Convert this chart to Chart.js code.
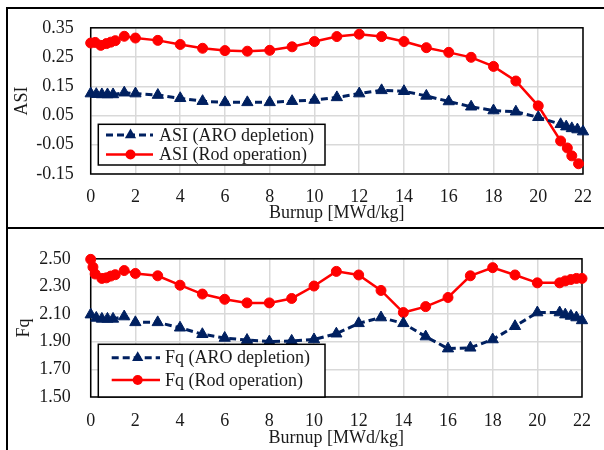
<!DOCTYPE html>
<html>
<head>
<meta charset="utf-8">
<script src="https://cdn.jsdelivr.net/npm/chart.js@4/dist/chart.umd.min.js"></script>
<style>
  html, body { margin: 0; padding: 0; background: #fff; overflow: hidden; }
  body { width: 604px; height: 450px; position: relative; }
  canvas { position: absolute; left: 0; }
  #c1 { top: 0; }
  #c2 { top: 228px; }
  .frame { position: absolute; box-sizing: border-box; border: 2px solid #000; pointer-events: none; }
</style>
</head>
<body>
<canvas id="c1" width="604" height="228"></canvas>
<canvas id="c2" width="604" height="222"></canvas>
<div class="frame" style="left:6px; top:7px; width:602px; height:222px;"></div>
<div class="frame" style="left:6px; top:227px; width:602px; height:240px;"></div>
<script>
// ---------------- data ----------------
const burnupAro    = [0, 0.25, 0.5, 0.75, 1, 1.5, 2, 3, 4, 5, 6, 7, 8, 9, 10, 11, 12, 13, 14, 15, 16, 17, 18, 19, 20, 21, 21.25, 21.5, 21.75, 22];
const burnupRodAsi = [0, 0.2, 0.45, 0.7, 0.9, 1.1, 1.5, 2, 3, 4, 5, 6, 7, 8, 9, 10, 11, 12, 13, 14, 15, 16, 17, 18, 19, 20, 21, 21.3, 21.5, 21.8];
const burnupRodFq  = [0, 0.1, 0.2, 0.5, 0.7, 0.9, 1.1, 1.5, 2, 3, 4, 5, 6, 7, 8, 9, 10, 11, 12, 13, 14, 15, 16, 17, 18, 19, 20, 21, 21.25, 21.5, 21.75, 22];

const asiAro = [0.125, 0.123, 0.122, 0.122, 0.122, 0.128, 0.125, 0.120, 0.109, 0.099, 0.095, 0.095, 0.095, 0.099, 0.103, 0.112, 0.125, 0.136, 0.133, 0.117, 0.098, 0.080, 0.067, 0.063, 0.044, 0.020, 0.012, 0.006, 0.002, -0.005];
const asiRod = [0.298, 0.300, 0.290, 0.296, 0.301, 0.306, 0.321, 0.315, 0.307, 0.293, 0.280, 0.272, 0.270, 0.273, 0.285, 0.303, 0.320, 0.328, 0.320, 0.303, 0.282, 0.266, 0.249, 0.218, 0.168, 0.083, -0.037, -0.061, -0.088, -0.115];

const fqAro = [2.096, 2.072, 2.065, 2.065, 2.065, 2.082, 2.040, 2.040, 2.001, 1.954, 1.927, 1.912, 1.901, 1.906, 1.916, 1.958, 2.033, 2.075, 2.033, 1.937, 1.850, 1.856, 1.916, 2.012, 2.111, 2.111, 2.096, 2.086, 2.075, 2.054];
const fqRod = [2.496, 2.440, 2.390, 2.358, 2.362, 2.375, 2.385, 2.415, 2.394, 2.377, 2.309, 2.245, 2.207, 2.181, 2.181, 2.213, 2.303, 2.409, 2.383, 2.271, 2.111, 2.154, 2.220, 2.377, 2.436, 2.383, 2.326, 2.326, 2.340, 2.350, 2.358, 2.358];

const asiTicks = [-0.15, -0.05, 0.05, 0.15, 0.25, 0.35];
const fqTicks  = [1.50, 1.70, 1.90, 2.10, 2.30, 2.50];
const xTitle = 'Burnup [MWd/kg]';
const labelsAsi = ['ASI (ARO depletion)', 'ASI (Rod operation)'];
const labelsFq  = ['Fq (ARO depletion)', 'Fq (Rod operation)'];

// ---------------- helpers ----------------
const FONT = 'Liberation Serif, Times New Roman, serif';
const TXT = '#1a1a1a';
const NAVY = '#002060';
const RED = '#ff0000';
const pts = (xs, ys) => xs.map((x, i) => ({ x: x, y: ys[i] }));

function aroDs(label, xs, ys) {
  return { label, data: pts(xs, ys), borderColor: NAVY, backgroundColor: NAVY,
    borderWidth: 3, borderDash: [7, 4], pointStyle: 'triangle', pointRadius: 6.5,
    pointBackgroundColor: NAVY, pointBorderColor: NAVY, pointBorderWidth: 1,
    tension: 0, clip: false };
}
function rodDs(label, xs, ys) {
  return { label, data: pts(xs, ys), borderColor: RED, backgroundColor: RED,
    borderWidth: 2.5, pointStyle: 'circle', pointRadius: 5,
    pointBackgroundColor: RED, pointBorderColor: RED, pointBorderWidth: 1,
    tension: 0, clip: false };
}

const frameAreaPlugin = {
  id: 'frameArea',
  beforeDatasetsDraw(chart) {
    const a = chart.chartArea, ctx = chart.ctx;
    ctx.save();
    ctx.strokeStyle = '#000';
    ctx.lineWidth = 1.5;
    ctx.strokeRect(a.left, a.top, a.right - a.left, a.bottom - a.top);
    ctx.restore();
  }
};

function marker(ctx, style, x, y, r) {
  ctx.beginPath();
  if (style === 'triangle') {
    ctx.moveTo(x, y - r);
    ctx.lineTo(x + r * Math.sqrt(3) / 2, y + r / 2);
    ctx.lineTo(x - r * Math.sqrt(3) / 2, y + r / 2);
    ctx.closePath();
  } else {
    ctx.arc(x, y, r, 0, Math.PI * 2);
  }
  ctx.fill();
}

const boxLegendPlugin = {
  id: 'boxLegend',
  afterDatasetsDraw(chart, args, o) {
    const ctx = chart.ctx;
    ctx.save();
    ctx.fillStyle = '#fff';
    ctx.fillRect(o.box[0], o.box[1], o.box[2], o.box[3]);
    ctx.strokeStyle = '#000';
    ctx.lineWidth = 1.5;
    ctx.strokeRect(o.box[0], o.box[1], o.box[2], o.box[3]);
    chart.data.datasets.forEach((ds, i) => {
      const y = o.rows[i];
      ctx.strokeStyle = ds.borderColor;
      ctx.lineWidth = ds.borderWidth;
      ctx.setLineDash(ds.borderDash || []);
      ctx.beginPath();
      ctx.moveTo(o.line[0], y);
      ctx.lineTo(o.line[1], y);
      ctx.stroke();
      ctx.setLineDash([]);
      ctx.fillStyle = ds.pointBackgroundColor;
      marker(ctx, ds.pointStyle, o.markerX, y, ds.pointRadius);
      ctx.fillStyle = TXT;
      ctx.font = '18px ' + FONT;
      ctx.textAlign = 'left';
      ctx.textBaseline = 'middle';
      ctx.fillText(ds.label, o.textX, y + 1);
    });
    ctx.restore();
  }
};

function makeChart(id, datasets, yTitle, ticks, cfg) {
  return new Chart(document.getElementById(id), {
    type: 'line',
    data: { datasets },
    plugins: [frameAreaPlugin, boxLegendPlugin],
    options: {
      responsive: false,
      animation: false,
      devicePixelRatio: 1,
      layout: { padding: { top: cfg.padTop, right: 18, left: 0, bottom: 0 } },
      plugins: {
        legend: { display: false },
        tooltip: { enabled: false },
        boxLegend: cfg.legend
      },
      scales: {
        x: {
          type: 'linear', min: 0, max: 22,
          afterFit: s => { s.height = cfg.xHeight; },
          ticks: { stepSize: 2, padding: cfg.xTickPad, color: TXT, font: { family: FONT, size: 18 },
                   callback: v => String(v) },
          grid: { color: '#d9d9d9', lineWidth: 1.5, drawTicks: false },
          border: { display: false },
          title: { display: true, text: xTitle, color: TXT, font: { family: FONT, size: 18 },
                   padding: { top: 0, bottom: cfg.xTitlePad } }
        },
        y: {
          type: 'linear', min: ticks[0], max: ticks[ticks.length - 1],
          afterFit: s => { s.width = 90.7; },
          afterBuildTicks: s => { s.ticks = ticks.map(v => ({ value: v })); },
          ticks: { padding: cfg.yTickPad, color: TXT, font: { family: FONT, size: 18 },
                   callback: v => Number(v).toFixed(2) },
          grid: { color: '#d9d9d9', lineWidth: 1.5, drawTicks: false },
          border: { display: false },
          title: { display: true, text: yTitle, color: TXT, font: { family: FONT, size: 18 },
                   padding: { top: cfg.yTitlePad, bottom: 0 } }
        }
      }
    }
  });
}

makeChart('c1',
  [aroDs(labelsAsi[0], burnupAro, asiAro), rodDs(labelsAsi[1], burnupRodAsi, asiRod)],
  'ASI', asiTicks,
  { padTop: 20, xHeight: 54, xTickPad: 12, xTitlePad: 4, yTickPad: 17, yTitlePad: 11,
    legend: { box: [98.3, 124.3, 226.7, 40.7], rows: [135, 154.5], line: [106, 153], markerX: 130.5, textX: 159 } });

makeChart('c2',
  [aroDs(labelsFq[0], burnupAro, fqAro), rodDs(labelsFq[1], burnupRodFq, fqRod)],
  'Fq', fqTicks,
  { padTop: 12, xHeight: 53, xTickPad: 13, xTitlePad: 0.5, yTickPad: 20, yTitlePad: 13,
    legend: { box: [98.3, 116.3, 226.7, 52.7], rows: [129.7, 152], line: [111.7, 160], markerX: 137.7, textX: 165 } });
</script>
</body>
</html>
